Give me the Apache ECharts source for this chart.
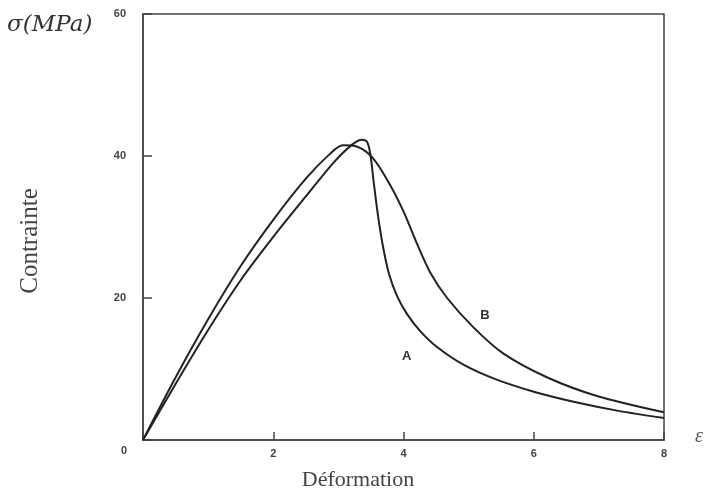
<!DOCTYPE html>
<html><head><meta charset="utf-8">
<script src="https://cdn.jsdelivr.net/npm/echarts@6/dist/echarts.min.js"></script>
<style>html,body{margin:0;padding:0;background:#fff}#c{width:705px;height:497px}</style>
</head><body><div id="c"></div>
<script>
var curveA = [[0,0],[0.5,7.9],[1.0,15.5],[1.5,22.5],[2.0,28.6],[2.5,34.3],[2.92,39.0],[3.21,41.6],[3.36,42.3],[3.44,42.0],[3.49,40.3],[3.54,36.5],[3.61,31.5],[3.69,27.0],[3.78,23.3],[3.9,20.3],[4.05,17.8],[4.25,15.4],[4.5,13.2],[4.92,10.6],[5.4,8.6],[6.0,6.8],[6.7,5.2],[7.3,4.1],[8.0,3.1]];
var curveB = [[0,0],[0.5,8.8],[1.0,17.0],[1.5,24.5],[2.0,31.0],[2.5,36.8],[2.87,40.3],[3.07,41.5],[3.29,41.3],[3.53,39.7],[3.79,36.0],[4.0,32.2],[4.2,27.8],[4.41,23.6],[4.67,20.0],[5.07,15.9],[5.53,12.2],[6.21,8.8],[6.97,6.2],[8.0,3.9]];
var labelA = {name:'A', coord:[4.05,11.8]};
var labelB = {name:'B', coord:[5.25,17.6]};
var xTicks = [0,2,4,6,8];
var yTicks = [0,20,40,60];

var chart = echarts.init(document.getElementById('c'));
var lblFont = {fontFamily:'Liberation Sans, Arial, sans-serif', fontWeight:'bold', fontSize:11, color:'#444'};
function mk(l){return {name:l.name, coord:l.coord, symbol:'circle', symbolSize:1, itemStyle:{color:'rgba(0,0,0,0)'},
  label:{show:true, position:'inside', formatter:l.name, fontFamily:'Liberation Sans, Arial, sans-serif', fontWeight:'bold', fontSize:13, color:'#333'}};}
chart.setOption({
  animation:false,
  backgroundColor:'#fff',
  grid:{left:143,right:41,top:14,bottom:57,show:true,borderColor:'#444',borderWidth:1.5,backgroundColor:'transparent'},
  xAxis:{type:'value',min:0,max:8,interval:2,
    axisLine:{lineStyle:{color:'#444',width:1.5}},
    axisTick:{inside:true,length:8,lineStyle:{color:'#444',width:1.5}},
    axisLabel:Object.assign({margin:8,formatter:function(v){return v===0?'':String(v);}},lblFont),
    splitLine:{show:false}},
  yAxis:{type:'value',min:0,max:60,interval:20,
    axisLine:{lineStyle:{color:'#444',width:1.5}},
    axisTick:{inside:true,length:9,lineStyle:{color:'#444',width:1.5}},
    axisLabel:Object.assign({margin:17,formatter:function(v){return v===0?'':String(v);}},lblFont),
    splitLine:{show:false}},
  graphic:[
    {type:'text',left:7,top:14,style:{text:'σ(MPa)',font:'italic 23px "DejaVu Serif", serif',fill:'#333'}},
    {type:'text',left:121,top:445,style:{text:'0',font:'bold 11px "Liberation Sans", Arial, sans-serif',fill:'#444'}},
    {type:'text',left:695,top:427,style:{text:'ε',font:'italic 20px "Liberation Serif", serif',fill:'#555'}},
    {type:'text',x:358,y:480,style:{text:'Déformation',font:'22px "Liberation Serif", "Times New Roman", serif',fill:'#444',align:'center',verticalAlign:'middle'}},
    {type:'text',x:30,y:241,rotation:Math.PI/2,style:{text:'Contrainte',font:'25px "Liberation Serif", "Times New Roman", serif',fill:'#444',align:'center',verticalAlign:'middle'}}
  ],
  series:[
    {type:'line',name:'A',data:curveA,smooth:0.3,showSymbol:false,lineStyle:{color:'#222',width:2},
      markPoint:{data:[mk(labelA)]}},
    {type:'line',name:'B',data:curveB,smooth:0.3,showSymbol:false,lineStyle:{color:'#222',width:2},
      markPoint:{data:[mk(labelB)]}}
  ]
});
</script></body></html>
